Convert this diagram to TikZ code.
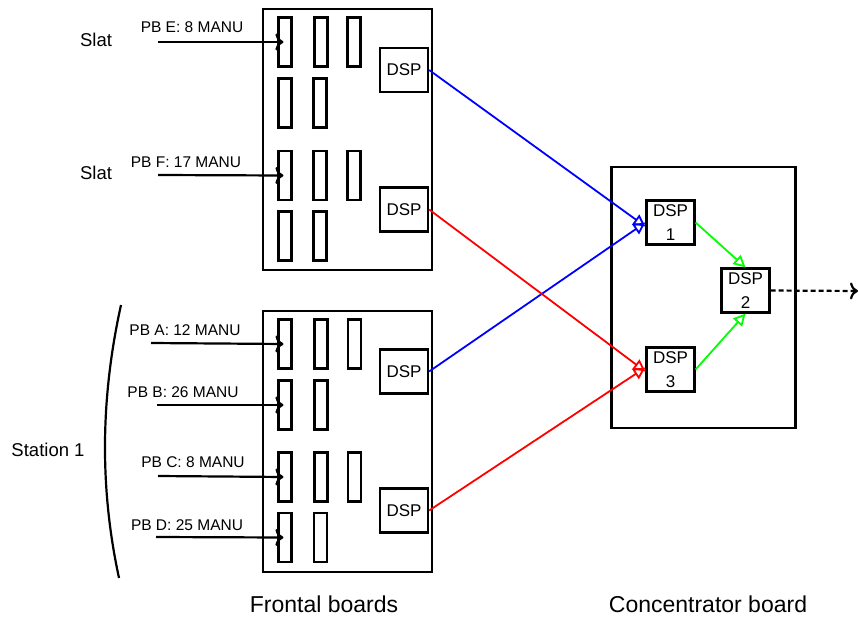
\documentclass[tikz,border=0pt]{standalone}
\usepackage{fontspec}
\setmainfont{Liberation Sans}
\usetikzlibrary{arrows.meta,positioning,calc}
\definecolor{ink}{HTML}{000000}
\definecolor{linkA}{HTML}{0000FF}
\definecolor{linkB}{HTML}{FF0000}
\definecolor{linkC}{HTML}{00FF00}
\tikzset{
  every node/.style={text=ink},
  board/.style={draw=ink,line width=2.2pt,inner sep=0pt,minimum width=169pt,minimum height=261pt},
  slot/.style={draw=ink,line width=2.2pt,inner sep=0pt,minimum width=13pt,minimum height=49pt},
  dsp/.style={draw=ink,line width=2.2pt,inner sep=0pt,minimum width=48pt,minimum height=44pt,font=\fontsize{17}{20}\selectfont},
  cdsp/.style={dsp,align=center,font=\fontsize{17}{24}\selectfont},
  pblabel/.style={font=\fontsize{15.5}{18}\selectfont,inner sep=0pt},
  side/.style={font=\fontsize{18.5}{22}\selectfont,inner sep=0pt},
  caption/.style={font=\fontsize{23}{27}\selectfont,inner sep=0pt},
  feed/.style={-{To[length=8pt,width=17pt]},line width=2.2pt,draw=ink,shorten >=-6pt},
  bluearr/.style={-{Triangle[open,length=12pt,width=12pt]},line width=1.8pt,draw=linkA},
  redarr/.style={-{Triangle[open,length=12pt,width=12pt]},line width=1.8pt,draw=linkB},
  greenarr/.style={-{Triangle[open,length=12pt,width=12pt]},line width=1.8pt,draw=linkC},
  outarr/.style={-{To[length=8pt,width=17pt]},line width=2.2pt,draw=ink,dash pattern=on 5pt off 3pt},
}

\begin{document}
\begin{tikzpicture}[x=1pt,y=-1pt]
\useasboundingbox (0,0) rectangle (859,616);

% frontal boards
\node[board] (fb1) at (347.5,139.5) {};
\node[board] (fb2) at (347.5,441.5) {};
\node[board,minimum width=184pt] (cb) at (703.5,297.5) {};

% slots, upper board
\node[slot] (e1) at (285,42) {};
\node[slot] (e2) at (321,42) {};
\node[slot] (e3) at (354,42) {};
\node[slot] (e4) at (285,103) {};
\node[slot] (e5) at (320,103) {};
\node[slot] (f1) at (285,175.5) {};
\node[slot] (f2) at (320,175.5) {};
\node[slot] (f3) at (354,175.5) {};
\node[slot] (f4) at (285,236) {};
\node[slot] (f5) at (320,236) {};

% slots, lower board
\node[slot] (a1) at (285,344) {};
\node[slot] (a2) at (321,344) {};
\node[slot] (a3) at (354.5,344) {};
\node[slot] (b1) at (285,405) {};
\node[slot] (b2) at (321,405) {};
\node[slot] (c1) at (285,477) {};
\node[slot] (c2) at (321,477) {};
\node[slot] (c3) at (354.5,477) {};
\node[slot] (d1) at (285,537.5) {};
\node[slot] (d2) at (320.5,537.5) {};

% DSPs on the frontal boards
\node[dsp] (dspE) at (404,70) {DSP};
\node[dsp] (dspF) at (404,209.5) {DSP};
\node[dsp] (dspA) at (404,371.5) {DSP};
\node[dsp] (dspC) at (404,510.5) {DSP};

% DSPs on the concentrator
\node[cdsp] (dsp1) at (670.5,222.5) {DSP\\1};
\node[cdsp] (dsp2) at (745.5,290.5) {DSP\\2};
\node[cdsp] (dsp3) at (670.5,369.5) {DSP\\3};

% inputs
\coordinate (inE) at (158,42);
\coordinate (inF) at (158,175);
\coordinate (inA) at (151,343);
\coordinate (inB) at (157,405);
\coordinate (inC) at (158,476);
\coordinate (inD) at (156,537);
\node[pblabel] (lblE) at (192,27) {PB E: 8 MANU};
\node[pblabel] (lblF) at (186,162) {PB F: 17 MANU};
\node[pblabel] (lblA) at (185,330) {PB A: 12 MANU};
\node[pblabel] (lblB) at (183,392) {PB B: 26 MANU};
\node[pblabel] (lblC) at (193,462) {PB C: 8 MANU};
\node[pblabel] (lblD) at (187,525) {PB D: 25 MANU};
\draw[feed] (inE) -- (e1);
\draw[feed] (inF) -- (f1);
\draw[feed] (inA) -- (a1);
\draw[feed] (inB) -- (b1);
\draw[feed] (inC) -- (c1);
\draw[feed] (inD) -- (d1);

\node[side] (slat1) at (96,40) {Slat};
\node[side] (slat2) at (96,173) {Slat};
\node[side] (station) at (48,450) {Station 1};
\draw[line width=2.2pt] (121,305) .. controls (100,400) and (100,490) .. (119,578);

% links
\draw[bluearr] (dspE.east) -- ([yshift=-4pt]dsp1.west);
\draw[bluearr] (dspA.east) -- ([yshift=0pt]dsp1.west);
\draw[redarr] (dspF.east) -- ([yshift=-2pt]dsp3.west);
\draw[redarr] (dspC.east) -- ([yshift=2pt]dsp3.west);
\draw[greenarr] (dsp1.east) -- (dsp2.north);
\draw[greenarr] (dsp3.east) -- (dsp2.south);
\coordinate (out) at (858,291);
\draw[outarr] (dsp2.east) -- (out);

\node[caption] (capF) at (324,604) {Frontal boards};
\node[caption] (capC) at (708,604) {Concentrator board};

\end{tikzpicture}
\end{document}
